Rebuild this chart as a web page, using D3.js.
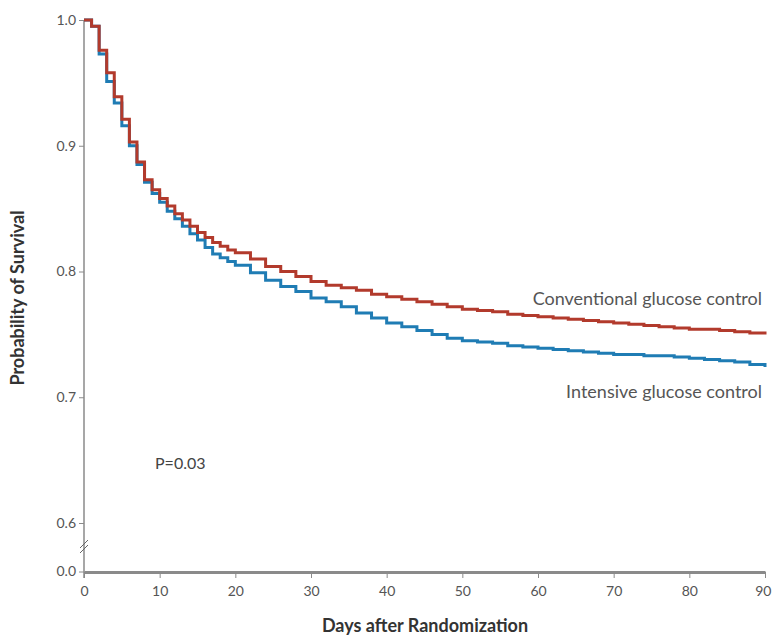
<!DOCTYPE html>
<html>
<head>
<meta charset="utf-8">
<script src="https://cdn.jsdelivr.net/npm/d3@7"></script>
<style>
  body { margin: 0; background: #fff; }
  text { font-family: Lato, "Open Sans", sans-serif; }
</style>
</head>
<body>
<div id="chart"></div>
<script>
// survival estimates
const days = [0, 1, 2, 3, 4, 5, 6, 7, 8, 9, 10, 11, 12, 13, 14, 15, 16, 17, 18, 19, 20, 22, 24, 26, 28, 30, 32, 34, 36, 38, 40, 42, 44, 46, 48, 50, 52, 54, 56, 58, 60, 62, 64, 66, 68, 70, 72, 74, 76, 78, 80, 82, 84, 86, 88, 90];
const conventional = [1.0, 0.995, 0.976, 0.958, 0.939, 0.921, 0.903, 0.887, 0.873, 0.865, 0.858, 0.852, 0.846, 0.841, 0.836, 0.831, 0.827, 0.823, 0.82, 0.817, 0.815, 0.81, 0.804, 0.8, 0.796, 0.792, 0.789, 0.787, 0.785, 0.782, 0.780, 0.778, 0.776, 0.774, 0.772, 0.770, 0.769, 0.768, 0.766, 0.765, 0.764, 0.763, 0.762, 0.761, 0.760, 0.759, 0.758, 0.757, 0.756, 0.755, 0.754, 0.754, 0.753, 0.752, 0.751, 0.750];
const intensive = [1.0, 0.995, 0.973, 0.951, 0.934, 0.916, 0.9, 0.885, 0.871, 0.862, 0.855, 0.848, 0.842, 0.836, 0.83, 0.825, 0.819, 0.814, 0.811, 0.808, 0.805, 0.799, 0.793, 0.788, 0.784, 0.779, 0.776, 0.772, 0.767, 0.763, 0.759, 0.756, 0.753, 0.750, 0.747, 0.745, 0.744, 0.743, 0.741, 0.740, 0.739, 0.738, 0.737, 0.736, 0.735, 0.734, 0.734, 0.733, 0.733, 0.732, 0.731, 0.730, 0.729, 0.728, 0.726, 0.724];
const xTicks = [0, 10, 20, 30, 40, 50, 60, 70, 80, 90];
const yTicks = [0.6, 0.7, 0.8, 0.9, 1.0];

const width = 772, height = 636;
const mLeft = 84, mRight = 765, mTop = 20, mBottom = 572, brokenBottom = 523;

const svg = d3.select("#chart").append("svg")
  .attr("width", width)
  .attr("height", height);

let x = d3.scaleLinear().domain([0, 90]).range([mLeft, mRight]);
let y = d3.scaleLinear().domain([0.6, 1.0]).range([brokenBottom, mTop]);

const axisColor = "#8a8a8a";
const textColor = "#555";

// y axis
const yAxis = svg.append("g")
  .attr("transform", `translate(${mLeft},0)`)
  .call(d3.axisLeft(y).tickValues(yTicks).tickFormat(d3.format(".1f")).tickSize(5).tickSizeOuter(0));
yAxis.select(".domain").remove();
svg.append("line")
  .attr("x1", mLeft).attr("x2", mLeft)
  .attr("y1", mTop).attr("y2", mBottom + 6)
  .attr("stroke", axisColor).attr("stroke-width", 1.5);

// 0.0 tick below the break
const zero = svg.append("g").attr("transform", `translate(${mLeft},${mBottom})`);
zero.append("line").attr("x1", -5).attr("x2", 0).attr("stroke", axisColor);
zero.append("text").attr("x", -8).attr("dy", "0.32em")
  .attr("text-anchor", "end").text("0.0");

// axis break marks
[0, 5].forEach(function (o) {
  svg.append("line")
    .attr("x1", mLeft - 4).attr("x2", mLeft + 4)
    .attr("y1", 553 - o).attr("y2", 545 - o)
    .attr("stroke", "#666").attr("stroke-width", 1);
});

// x axis
const xAxis = svg.append("g")
  .attr("transform", `translate(0,${mBottom})`)
  .call(d3.axisBottom(x).tickValues(xTicks).tickSize(6).tickSizeOuter(0));
xAxis.select(".domain")
  .attr("stroke", axisColor).attr("stroke-width", 3);

svg.selectAll(".tick line").attr("stroke", axisColor);
svg.selectAll(".tick text")
  .attr("fill", textColor)
  .style("font-size", "14px");
zero.select("text").attr("fill", textColor).style("font-size", "14px");
xAxis.selectAll(".tick text").attr("dy", "1.05em");
// last label would run off the page edge
xAxis.selectAll(".tick text").filter(function (d) { return d === 90; })
  .attr("text-anchor", "end").attr("x", 6);

// survival curves
const line = d3.line()
  .x(function (d) { return x(d[0]); })
  .y(function (d) { return y(d[1]); })
  .curve(d3.curveStepAfter);

svg.append("path")
  .datum(days.map(function (d, i) { return [d, intensive[i]]; }))
  .attr("d", line)
  .attr("fill", "none")
  .attr("stroke", "#1f7cb4")
  .attr("stroke-width", 3);

svg.append("path")
  .datum(days.map(function (d, i) { return [d, conventional[i]]; }))
  .attr("d", line)
  .attr("fill", "none")
  .attr("stroke", "#b23a2c")
  .attr("stroke-width", 3);

// labels
svg.append("text")
  .attr("x", 762).attr("y", 305)
  .attr("text-anchor", "end")
  .attr("fill", textColor)
  .style("font-size", "18px")
  .text("Conventional glucose control");

svg.append("text")
  .attr("x", 762).attr("y", 398)
  .attr("text-anchor", "end")
  .attr("fill", textColor)
  .style("font-size", "18px")
  .text("Intensive glucose control");

svg.append("text")
  .attr("x", 155).attr("y", 469)
  .attr("fill", "#444")
  .style("font-size", "16px")
  .text("P=0.03");

svg.append("text")
  .attr("x", 425).attr("y", 632)
  .attr("text-anchor", "middle")
  .attr("fill", "#333")
  .style("font-size", "18px")
  .style("font-weight", "bold")
  .text("Days after Randomization");

svg.append("text")
  .attr("transform", "translate(24,298) rotate(-90)")
  .attr("text-anchor", "middle")
  .attr("fill", "#333")
  .style("font-size", "18px")
  .style("font-weight", "bold")
  .text("Probability of Survival");
</script>
</body>
</html>
